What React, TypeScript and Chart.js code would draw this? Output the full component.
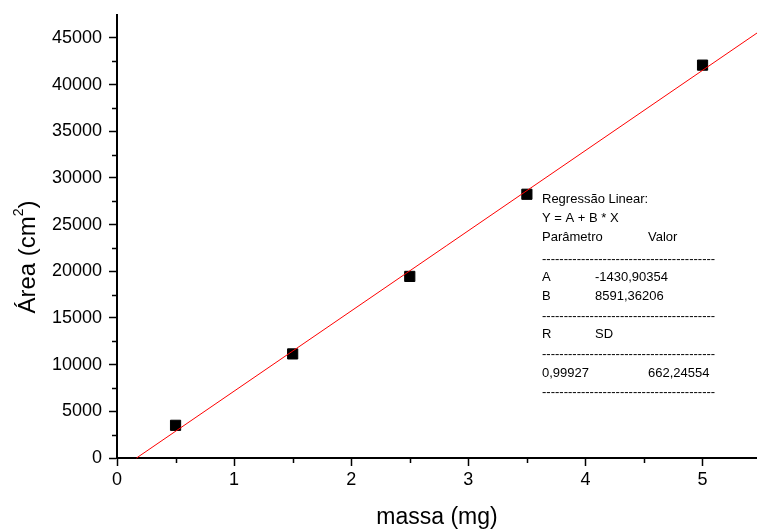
import React, { useEffect, useRef } from "react";
import { Chart, registerables } from "chart.js";

Chart.register(...registerables);

// Measured samples: mass (mg) vs peak area
const massa: number[] = [0.5, 1.5, 2.5, 3.5, 5.0];
const area: number[] = [3500, 11150, 19450, 28250, 42080];

// Linear regression results (Y = A + B * X)
const coefA = -1430.90354;
const coefB = 8591.36206;
const coefR = "0,99927";
const coefSD = "662,24554";

const xMin = 0;
const xMax = 5.465;
const yMin = 0;
const yMax = 47450;
const xMajorTicks: number[] = [0, 1, 2, 3, 4, 5];
const xMinorTicks: number[] = [0.5, 1.5, 2.5, 3.5, 4.5];
const yMajorTicks: number[] = [0, 5000, 10000, 15000, 20000, 25000, 30000, 35000, 40000, 45000];
const yMinorTicks: number[] = [2500, 7500, 12500, 17500, 22500, 27500, 32500, 37500, 42500];

const fmtComma = (v: number) => v.toFixed(5).replace(".", ",");

const boxLines: string[][] = [
  ["Regressão Linear:"],
  ["Y = A + B * X"],
  ["Parâmetro", "", "Valor"],
  ["-"],
  ["A", fmtComma(coefA)],
  ["B", fmtComma(coefB)],
  ["-"],
  ["R", "SD"],
  ["-"],
  [coefR, "", coefSD],
  ["-"],
];

const FONT = "'Liberation Sans', Arial, Helvetica, sans-serif";

const decorPlugin = {
  id: "decor",
  afterDraw(chart: any) {
    const { ctx, scales } = chart;
    const xs = scales.x;
    const ys = scales.y;

    // minor tick marks
    ctx.save();
    ctx.strokeStyle = "#000";
    ctx.lineWidth = 1.5;
    ctx.beginPath();
    for (const v of xMinorTicks) {
      const px = Math.round(xs.getPixelForValue(v)) + 0.5;
      ctx.moveTo(px, ys.bottom);
      ctx.lineTo(px, ys.bottom + 5);
    }
    for (const v of yMinorTicks) {
      const py = Math.round(ys.getPixelForValue(v)) + 0.5;
      ctx.moveTo(xs.left, py);
      ctx.lineTo(xs.left - 5, py);
    }
    ctx.stroke();
    ctx.restore();

    // rotated y-axis title with superscript
    ctx.save();
    ctx.fillStyle = "#000";
    ctx.textBaseline = "alphabetic";
    ctx.textAlign = "left";
    const mainFont = `24px ${FONT}`;
    const supFont = `14px ${FONT}`;
    const partA = "Área (cm";
    const partSup = "2";
    const partB = ")";
    ctx.font = mainFont;
    const wA = ctx.measureText(partA).width;
    const wB = ctx.measureText(partB).width;
    ctx.font = supFont;
    const wS = ctx.measureText(partSup).width;
    const total = wA + wS + wB;
    ctx.translate(35, 257);
    ctx.rotate(-Math.PI / 2);
    let cx = -total / 2;
    ctx.font = mainFont;
    ctx.fillText(partA, cx, 0);
    cx += wA;
    ctx.font = supFont;
    ctx.fillText(partSup, cx, -12);
    cx += wS;
    ctx.font = mainFont;
    ctx.fillText(partB, cx, 0);
    ctx.restore();

    // regression summary
    ctx.save();
    ctx.fillStyle = "#000";
    ctx.font = `13px ${FONT}`;
    ctx.textBaseline = "middle";
    ctx.textAlign = "left";
    const left = 542;
    const col2 = 595;
    const col3 = 648;
    const rows = [199, 218, 237, 259, 277, 296, 316, 334, 354, 373, 392];
    boxLines.forEach((line, i) => {
      const y = rows[i];
      if (line[0] === "-") {
        ctx.fillText("-".repeat(40), left, y);
        return;
      }
      ctx.fillText(line[0], left, y);
      if (line[1]) ctx.fillText(line[1], col2, y);
      if (line[2]) ctx.fillText(line[2], col3, y);
    });
    ctx.restore();
  },
};

export default function App() {
  const ref = useRef<HTMLCanvasElement | null>(null);

  useEffect(() => {
    document.body.style.margin = "0";
    const canvas = ref.current;
    if (!canvas) return;

    const x0 = -coefA / coefB;
    const fitLine = [
      { x: x0, y: coefA + coefB * x0 },
      { x: xMax, y: coefA + coefB * xMax },
    ];

    const chart = new Chart(canvas, {
      type: "scatter",
      data: {
        datasets: [
          {
            type: "line",
            data: fitLine,
            borderColor: "#ff0000",
            borderWidth: 1,
            pointRadius: 0,
            fill: false,
            clip: false,
          },
          {
            data: massa.map((m, i) => ({ x: m, y: area[i] })),
            pointStyle: "rect",
            pointRadius: 7.2,
            pointBackgroundColor: "#000",
            pointBorderColor: "#000",
            pointBorderWidth: 1,
            clip: false,
          },
        ],
      },
      options: {
        animation: false,
        responsive: false,
        devicePixelRatio: 1,
        layout: { autoPadding: false, padding: { left: 0, top: 15, right: 0, bottom: 0 } },
        plugins: {
          legend: { display: false },
          tooltip: { enabled: false },
        },
        scales: {
          x: {
            type: "linear",
            min: xMin,
            max: xMax,
            afterBuildTicks: (s: any) => {
              s.ticks = xMajorTicks.map((v) => ({ value: v }));
            },
            afterFit: (s: any) => {
              s.height = 73;
              s.paddingRight = 0;
              s.paddingLeft = 0;
            },
            grid: {
              drawOnChartArea: false,
              drawTicks: true,
              tickLength: 8,
              tickWidth: 1.5,
              tickColor: "#000",
              color: "#000",
            },
            border: { display: true, color: "#000", width: 2 },
            ticks: {
              color: "#000",
              padding: 3,
              font: { family: FONT, size: 18 },
              maxRotation: 0,
            },
            title: {
              display: true,
              text: "massa (mg)",
              color: "#000",
              font: { family: FONT, size: 23 },
              padding: { top: 0, bottom: 0 },
            },
          },
          y: {
            type: "linear",
            min: yMin,
            max: yMax,
            afterBuildTicks: (s: any) => {
              s.ticks = yMajorTicks.map((v) => ({ value: v }));
            },
            afterFit: (s: any) => {
              s.width = 117;
              s.paddingTop = 0;
              s.paddingBottom = 0;
            },
            grid: {
              drawOnChartArea: false,
              drawTicks: true,
              tickLength: 8,
              tickWidth: 1.5,
              tickColor: "#000",
              color: "#000",
            },
            border: { display: true, color: "#000", width: 2 },
            ticks: {
              color: "#000",
              padding: 7,
              font: { family: FONT, size: 18 },
              callback: (v: any) => String(v),
            },
          },
        },
      },
      plugins: [decorPlugin],
    });

    return () => chart.destroy();
  }, []);

  return <canvas ref={ref} width={757} height={531} style={{ display: "block" }} />;
}
